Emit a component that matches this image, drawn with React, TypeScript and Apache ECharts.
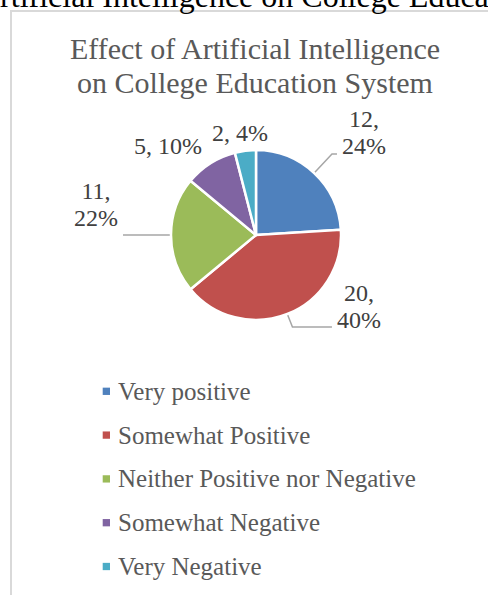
import React, { useEffect, useRef } from "react";
import * as echarts from "echarts";

const categories = [
  "Very positive",
  "Somewhat Positive",
  "Neither Positive nor Negative",
  "Somewhat Negative",
  "Very Negative",
];
const counts = [12, 20, 11, 5, 2];
const colors = ["#4f81bd", "#c0504d", "#9bbb59", "#8064a2", "#4bacc6"];
const titleLines = ["Effect of Artificial Intelligence", "on College Education System"];
const pageHeading = "Artificial Intelligence on College Education";

// label layout per slice: radial length, horizontal length, padding, two-line, show leader line
const labelCfg = [
  { len: 26, len2: 5, pad: [0, 0, 43, 0], twoLine: true, line: true },
  { len: 14, len2: 39.5, pad: [0, 0, 42, 0], twoLine: true, line: true },
  { len: 20, len2: 28, pad: [0, 0, 61, 0], twoLine: true, line: true },
  { len: 20.5, len2: -7.6, pad: [0, 0, 0, 0], twoLine: false, line: false },
  { len: 17.8, len2: -29.8, pad: [0, 0, 0, 0], twoLine: false, line: false },
];

const SERIF = "Liberation Serif";

export default function App() {
  const ref = useRef<HTMLDivElement>(null);
  useEffect(() => {
    if (!ref.current) return;
    const chart = echarts.init(ref.current, null, { renderer: "svg" });
    const data = categories.map((name, i) => {
      const c = labelCfg[i];
      return {
        name,
        value: counts[i],
        itemStyle: { color: colors[i] },
        label: {
          padding: c.pad,
          formatter: (p: any) => {
            const pct = Math.round(p.percent) + "%";
            return c.twoLine ? `{c|${p.value},}\n{c|${pct}}` : `${p.value}, ${pct}`;
          },
        },
        labelLine: { show: c.line, length: c.len, length2: c.len2 },
      };
    });
    chart.setOption({
      animation: false,
      textStyle: { fontFamily: SERIF },
      title: {
        text: titleLines.join("\n"),
        left: 255,
        top: 31,
        padding: 0,
        textAlign: "center",
        textStyle: {
          fontFamily: SERIF,
          fontSize: 30,
          fontWeight: "normal",
          color: "#595959",
          lineHeight: 34,
        },
      },
      graphic: [
        {
          type: "rect",
          z: -10,
          shape: { x: 11, y: 11, width: 700, height: 800 },
          style: { fill: "none", stroke: "#d9d9d9", lineWidth: 2 },
        },
        {
          type: "text",
          x: -23,
          y: -4,
          style: {
            text: pageHeading,
            fontFamily: SERIF,
            fontSize: 32,
            fill: "#000000",
            verticalAlign: "middle",
            align: "left",
          },
        },
      ],
      legend: {
        orient: "vertical",
        left: 102.7,
        top: 378.8,
        padding: 0,
        icon: "rect",
        itemWidth: 7.3,
        itemHeight: 7.3,
        itemGap: 18.8,
        itemStyle: { borderWidth: 0 },
        textStyle: {
          fontFamily: SERIF,
          fontSize: 25,
          lineHeight: 25,
          color: "#595959",
          padding: [0, 0, 0, 3],
        },
        data: categories,
      },
      series: [
        {
          type: "pie",
          center: [256, 235],
          radius: 85,
          startAngle: 90,
          clockwise: true,
          avoidLabelOverlap: false,
          itemStyle: { borderColor: "#ffffff", borderWidth: 2.5 },
          label: {
            show: true,
            position: "outside",
            distanceToLabelLine: 5,
            fontFamily: SERIF,
            fontSize: 24,
            lineHeight: 27,
            color: "#404040",
            rich: {
              c: {
                align: "center",
                fontFamily: SERIF,
                fontSize: 24,
                lineHeight: 27,
                color: "#404040",
              },
            },
          },
          labelLine: {
            lineStyle: { color: "#a6a6a6", width: 1.5 },
          },
          emphasis: { disabled: true },
          data,
        },
      ],
    });
    return () => chart.dispose();
  }, []);
  return (
    <div
      ref={ref}
      style={{ position: "fixed", left: 0, top: 0, width: 488, height: 595, background: "#ffffff" }}
    />
  );
}
